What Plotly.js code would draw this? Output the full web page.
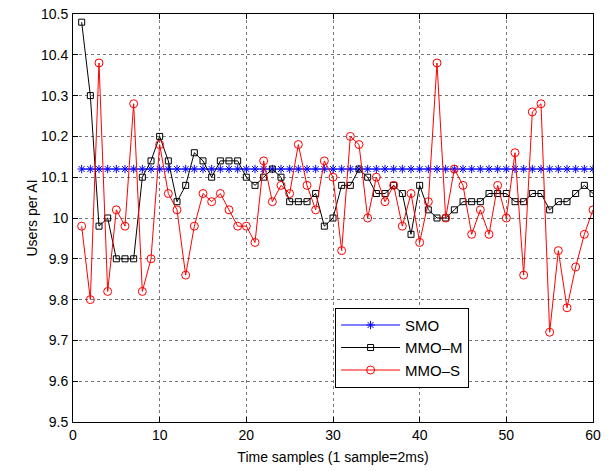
<!DOCTYPE html>
<html>
<head>
<meta charset="utf-8">
<script src="https://cdn.plot.ly/plotly-3.0.1.min.js"></script>
<style>html,body{margin:0;padding:0;background:#fff;}#chart{width:613px;height:471px;}</style>
</head>
<body>
<div id="chart"></div>
<script>
const samples = Array.from({length: 60}, (_, i) => i + 1);
const smo = Array(60).fill(10.12);
const mmoM = [10.48,10.30,9.98,10.00,9.90,9.90,9.90,10.10,10.14,10.20,
              10.14,10.04,10.08,10.16,10.14,10.10,10.14,10.14,10.14,10.10,
              10.08,10.10,10.12,10.10,10.04,10.04,10.04,10.06,9.98,10.00,
              10.08,10.08,10.12,10.10,10.06,10.06,10.08,10.06,9.96,10.08,
              10.02,10.00,10.00,10.02,10.04,10.04,10.04,10.06,10.06,10.06,
              10.04,10.04,10.06,10.06,10.02,10.04,10.04,10.06,10.08,10.06];
const mmoS = [9.98,9.80,10.38,9.82,10.02,9.98,10.28,9.82,9.90,10.18,
              10.06,10.02,9.86,9.98,10.06,10.04,10.06,10.02,9.98,9.98,
              9.94,10.14,10.04,10.08,10.06,10.18,10.08,10.02,10.14,10.10,
              9.92,10.20,10.18,10.00,10.10,10.04,10.08,9.98,10.06,9.94,
              10.04,10.38,10.00,10.12,10.08,9.96,10.02,9.96,10.08,10.00,
              10.16,9.86,10.26,10.28,9.72,9.92,9.78,9.88,9.96,10.02];
const xTicks = [0,10,20,30,40,50,60];
const yTicks = [9.5,9.6,9.7,9.8,9.9,10,10.1,10.2,10.3,10.4,10.5];
const yTickText = ['9.5','9.6','9.7','9.8','9.9','10','10.1','10.2','10.3','10.4','10.5'];

const traces = [
  {x: samples, y: smo, name: 'SMO', mode: 'lines+markers',
   line: {color: '#0000ff', width: 1},
   marker: {symbol: 'asterisk-open', size: 7, color: '#0000ff', line: {color: '#0000ff', width: 1}}},
  {x: samples, y: mmoM, name: 'MMO\u2013M', mode: 'lines+markers',
   line: {color: '#000000', width: 1},
   marker: {symbol: 'square-open', size: 6, color: '#000000', line: {color: '#000000', width: 1}}},
  {x: samples, y: mmoS, name: 'MMO\u2013S', mode: 'lines+markers',
   line: {color: '#ff0000', width: 1},
   marker: {symbol: 'circle-open', size: 8, color: '#ff0000', line: {color: '#ff0000', width: 1}}}
];

const axisCommon = {
  showline: true, linecolor: '#000', linewidth: 1, mirror: 'allticks',
  ticks: 'inside', ticklen: 5, tickcolor: '#000', tickwidth: 1,
  showgrid: true, gridcolor: '#777', griddash: 'dot', gridwidth: 1,
  zeroline: false,
  tickfont: {family: 'Liberation Sans, Arial, sans-serif', size: 14, color: '#000'}
};

const layout = {
  width: 613, height: 471,
  margin: {l: 73, r: 20, t: 14, b: 49},
  paper_bgcolor: '#fff', plot_bgcolor: '#fff',
  showlegend: true,
  legend: {x: 0.504, y: 0.28, xanchor: 'left', yanchor: 'top',
    bgcolor: '#fff', bordercolor: '#000', borderwidth: 1,
    font: {family: 'Liberation Sans, Arial, sans-serif', size: 15, color: '#000'},
    itemwidth: 59},
  xaxis: Object.assign({}, axisCommon, {
    range: [0, 60], tickvals: xTicks,
    title: {text: 'Time samples (1 sample=2ms)', standoff: 10,
      font: {family: 'Liberation Sans, Arial, sans-serif', size: 14, color: '#000'}}
  }),
  yaxis: Object.assign({}, axisCommon, {
    range: [9.5, 10.5], tickvals: yTicks, ticktext: yTickText, ticklabelstandoff: 1,
    title: {text: 'Users per AI', standoff: 0,
      font: {family: 'Liberation Sans, Arial, sans-serif', size: 14, color: '#000'}}
  })
};

Plotly.newPlot('chart', traces, layout, {displayModeBar: false, staticPlot: true});
</script>
</body>
</html>
